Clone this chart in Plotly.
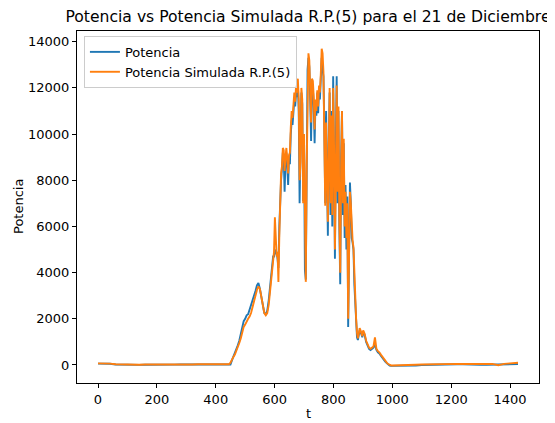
import plotly.graph_objects as go

# ---- time index segments (minutes of the day) ----
t_night = list(range(0, 441, 20))
t_rise = list(range(445, 596, 5))
t_day = list(range(598, 899, 3))
t_eve = list(range(901, 997, 5))
t_late = list(range(1000, 1421, 20)) + [1427]
t = t_night + t_rise + t_day + t_eve + t_late

# ---- Potencia (measured) ----
pot_night = [60, 70, 55, 20, 10, 5, 10, 5, 10, 5, 10, 15, 10, 15, 20, 20, 15, 20, 20, 15, 15, 10, 10]
pot_rise = [0, 20, 200, 350, 500, 650, 850, 1050, 1300, 1600, 1900, 2000, 2150, 2200, 2400, 2500,
            2800, 3000, 3200, 3450, 3550, 3300, 2900, 2500, 2250, 2200, 2350, 2800, 3500, 4300, 4700]
pot_day = [4700, 5000, 4800, 4900, 4600, 4200, 6000, 7300, 8000, 8500,
           9200, 9000, 7500, 8800, 9200, 8600, 7800, 9000, 8700, 10000,
           10600, 10400, 11000, 11500, 11200, 11800, 11600, 12200, 11000, 7000,
           9500, 11800, 11300, 7100, 9800, 4100, 3700, 9000, 12800, 13300,
           12900, 11500, 9700, 12200, 12000, 11200, 9600, 11400, 10800, 11800,
           10900, 12000, 11500, 12400, 13300, 12800, 12500, 10200, 7000, 11000,
           8000, 5600, 9500, 11800, 6500, 11000, 6000, 12500, 9000, 4600,
           9500, 12500, 7000, 11000, 6000, 3500, 9000, 11000, 6500, 9600,
           5500, 7800, 5000, 7300, 1650, 5000, 7900, 7000, 5500, 5300,
           5000, 3500, 2500, 1800, 1200, 1080, 1300, 1500, 1450, 1300,
           1200]
pot_eve = [1450, 1300, 1000, 800, 700, 650, 700, 750, 900, 650, 550, 500, 400, 300, 250, 150, 80, 20, -30, -40]
pot_late = [-40, -40, -35, -30, -20, 0, 10, 20, 20, 25, 30, 30, 25, 30, 25, 10, 10, 15, 10, 20, 30, 40, 40]
potencia = pot_night + pot_rise + pot_day + pot_eve + pot_late

# ---- Potencia Simulada R.P.(5) ----
sim_night = [70, 80, 60, 30, 20, 15, 20, 10, 20, 10, 20, 25, 20, 25, 30, 30, 20, 30, 30, 25, 25, 20, 20]
sim_rise = [30, 100, 250, 350, 450, 600, 750, 950, 1150, 1400, 1650, 1750, 1900, 2000, 2100, 2250,
            2500, 2800, 3000, 3250, 3400, 3300, 2950, 2550, 2250, 2150, 2250, 2600, 3300, 4100, 4600]
sim_day = [4900, 6400, 5200, 4700, 4900, 3600, 5600, 7000, 8300, 8600,
           9400, 9300, 8400, 9000, 9400, 8900, 8300, 9100, 9200, 10300,
           11000, 10700, 11200, 11800, 11400, 12100, 11800, 12400, 11500, 8000,
           8800, 12000, 11500, 7000, 10000, 4500, 3600, 8500, 12700, 13500,
           13200, 12000, 10500, 12400, 12300, 11600, 10200, 11500, 11000, 11900,
           11200, 12100, 11800, 12600, 13700, 13500, 12700, 9800, 6900, 10500,
           8500, 6200, 9000, 12000, 7000, 10800, 6500, 12000, 9500, 5000,
           8000, 12100, 7500, 11200, 6500, 4000, 8500, 11000, 7000, 9800,
           6000, 7500, 5500, 7000, 2000, 4500, 7500, 7000, 5800, 5400,
           5100, 3800, 2700, 2000, 1400, 1150, 1350, 1600, 1500, 1400,
           1250]
sim_eve = [1500, 1350, 1050, 850, 750, 700, 750, 800, 1200, 700, 600, 550, 450, 350, 280, 180, 100, 40, -10, -20]
sim_late = [-20, -20, -10, 0, 10, 20, 30, 40, 50, 50, 60, 50, 40, 50, 50, 40, 40, 50, -10, 50, 70, 90, 100]
simulada = sim_night + sim_rise + sim_day + sim_eve + sim_late

x_ticks = [0, 200, 400, 600, 800, 1000, 1200, 1400]
y_ticks = [0, 2000, 4000, 6000, 8000, 10000, 12000, 14000]

FONT = "DejaVu Sans"
FS = 13
# page body has an 8px margin; the figure is sized to fill the rest of the window
W, H = 547, 415
OFF = 8

fig = go.Figure()
fig.add_trace(go.Scatter(x=t, y=potencia, mode="lines", name="Potencia",
                         line=dict(color="#1f77b4", width=1.9)))
fig.add_trace(go.Scatter(x=t, y=simulada, mode="lines", name="Potencia Simulada R.P.(5)",
                         line=dict(color="#ff7f0e", width=1.9)))

axis_common = dict(showgrid=False, zeroline=False, showline=True, mirror=True,
                   linecolor="black", linewidth=1, ticks="outside", ticklen=4,
                   tickcolor="black", tickfont=dict(family=FONT, size=FS, color="black"))

fig.update_layout(
    width=W, height=H,
    margin=dict(l=77 - OFF, r=W - (539 - OFF), t=31 - OFF, b=H - (383 - OFF)),
    paper_bgcolor="white", plot_bgcolor="white",
    font=dict(family=FONT, size=FS, color="black"),
    title=dict(text="Potencia vs Potencia Simulada R.P.(5) para el 21 de Diciembre",
               x=0.5, xref="paper", xanchor="center", y=1 - (17 - OFF) / H, yanchor="middle",
               font=dict(family=FONT, size=15.6, color="black")),
    xaxis=dict(range=[-71.4, 1498.4], tickvals=x_ticks, ticktext=[str(v) for v in x_ticks],
               **axis_common),
    yaxis=dict(range=[-780, 14465], tickvals=y_ticks, ticktext=[str(v) for v in y_ticks],
               **axis_common),
    legend=dict(x=0.015, y=0.986, xanchor="left", yanchor="top",
                bgcolor="rgba(255,255,255,0.8)", bordercolor="#cccccc", borderwidth=1,
                font=dict(family=FONT, size=FS, color="black"), itemwidth=30,
                tracegroupgap=0),
    showlegend=True,
    annotations=[
        dict(text="t", xref="paper", yref="paper", x=0.5, y=-(413 - 383) / 352,
             xanchor="center", yanchor="middle", showarrow=False,
             font=dict(family=FONT, size=FS, color="black")),
        dict(text="Potencia", xref="paper", yref="paper", x=-(77 - 18) / 462, y=0.5,
             xanchor="center", yanchor="middle", textangle=-90, showarrow=False,
             font=dict(family=FONT, size=FS, color="black")),
    ],
)

fig.write_html("out.html")
